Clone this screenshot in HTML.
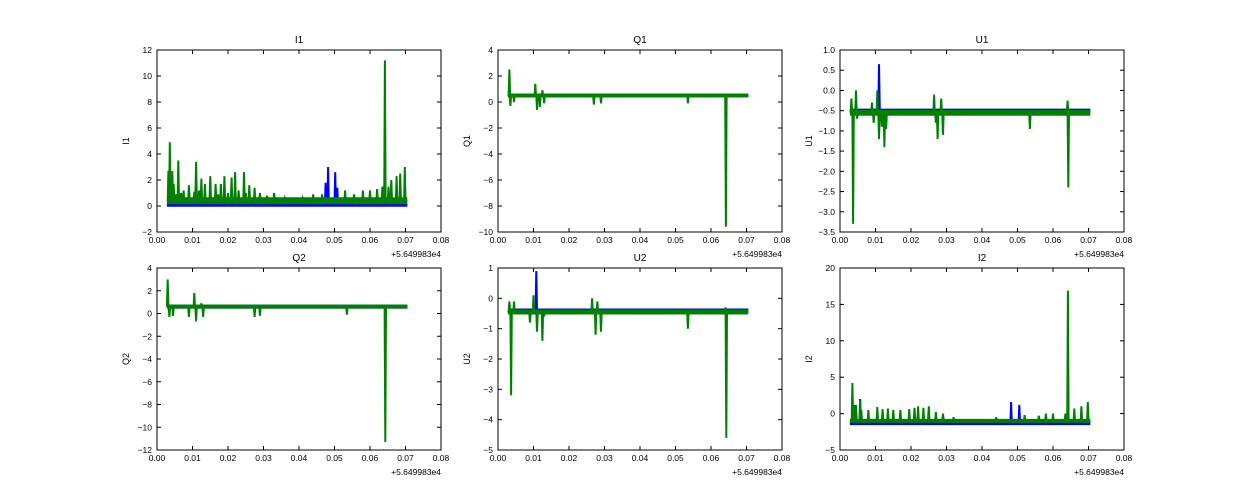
<!DOCTYPE html>
<html><head><meta charset="utf-8">
<style>
body{margin:0;background:#fff;}
svg{display:block;font-family:"Liberation Sans",sans-serif;}
</style></head>
<body>
<svg id="fig" width="1250" height="500" viewBox="0 0 1250 500" xmlns="http://www.w3.org/2000/svg"></svg>
<script>
// ---- data ----
const xTicks = [0.00,0.01,0.02,0.03,0.04,0.05,0.06,0.07,0.08];
const xStart = 0.0028, xEnd = 0.0705;
const offsetLabel = "+5.649983e4";

const titles = ["I1","Q1","U1","Q2","U2","I2"];
const yTicksI1 = [-2,0,2,4,6,8,10,12];
const yTicksQ1 = [-10,-8,-6,-4,-2,0,2,4];
const yTicksU1 = [-3.5,-3.0,-2.5,-2.0,-1.5,-1.0,-0.5,0.0,0.5,1.0];
const yTicksQ2 = [-12,-10,-8,-6,-4,-2,0,2,4];
const yTicksU2 = [-5,-4,-3,-2,-1,0,1];
const yTicksI2 = [-5,0,5,10,15,20];

const blueBase = [0.1, 0.5, -0.5, 0.6, -0.4, -1.3];
const greenBase = [0.4, 0.5, -0.55, 0.6, -0.45, -1.0];
const greenBandW = [7, 4, 6, 4, 5, 4];

// spikes: [x, value]
const greenI1 = [[0.0032,2.7],[0.0036,4.9],[0.0043,2.7],[0.0047,1.7],[0.0053,0.9],[0.006,3.5],[0.0068,1.0],[0.0075,1.2],[0.009,1.6],[0.0105,1.1],[0.011,3.4],[0.0118,1.2],[0.0125,2.1],[0.0135,1.7],[0.015,2.3],[0.0165,1.7],[0.0172,0.9],[0.018,1.7],[0.019,2.3],[0.020,1.0],[0.021,2.2],[0.022,2.6],[0.023,1.2],[0.0245,2.6],[0.025,1.0],[0.026,1.6],[0.0275,1.4],[0.029,1.0],[0.031,0.8],[0.033,1.0],[0.036,0.6],[0.041,0.6],[0.044,0.9],[0.0465,0.9],[0.053,1.2],[0.0555,0.9],[0.058,1.2],[0.060,1.2],[0.062,1.3],[0.0635,1.5],[0.0642,11.2],[0.0652,1.5],[0.066,2.0],[0.0675,2.3],[0.0685,2.5],[0.0698,3.0]];
const blueI1 = [[0.0475,1.8],[0.0482,3.0],[0.0502,2.6],[0.0508,1.4]];
const greenQ1 = [[0.0032,2.5],[0.0035,-0.3],[0.0045,0.0],[0.0105,1.4],[0.011,-0.6],[0.0118,-0.4],[0.0125,0.9],[0.013,-0.1],[0.027,-0.2],[0.029,-0.1],[0.0535,-0.1],[0.0642,-9.6]];
const blueQ1 = [];
const greenU1 = [[0.0032,-0.2],[0.0037,-3.3],[0.0045,0.0],[0.0048,-0.7],[0.009,-0.3],[0.0095,-0.8],[0.0105,0.0],[0.011,-1.2],[0.0118,-0.9],[0.0125,-1.4],[0.013,-0.95],[0.0265,-0.1],[0.027,-0.8],[0.0275,-1.2],[0.0285,-0.2],[0.029,-1.1],[0.0535,-0.95],[0.0641,-0.25],[0.0643,-2.4]];
const blueU1 = [[0.011,0.65]];
const greenQ2 = [[0.003,3.0],[0.0035,-0.3],[0.0045,-0.2],[0.009,-0.3],[0.0105,1.8],[0.011,-0.7],[0.0125,0.9],[0.013,-0.3],[0.0275,-0.3],[0.029,-0.2],[0.0535,-0.1],[0.0643,-11.3]];
const blueQ2 = [];
const greenU2 = [[0.0032,-0.1],[0.0037,-3.2],[0.0045,-0.1],[0.009,-0.8],[0.010,0.1],[0.011,-1.1],[0.0125,-1.4],[0.013,-0.6],[0.0265,0.0],[0.0275,-1.2],[0.028,-0.1],[0.029,-1.1],[0.0535,-1.0],[0.0641,-0.3],[0.0643,-4.6]];
const blueU2 = [[0.0108,0.9]];
const greenI2 = [[0.0035,4.2],[0.004,1.2],[0.0045,1.2],[0.0057,1.8],[0.006,0.5],[0.008,0.5],[0.0105,0.9],[0.012,0.6],[0.0135,0.7],[0.015,0.5],[0.017,0.5],[0.0195,0.6],[0.021,0.8],[0.022,1.0],[0.0235,0.8],[0.025,1.0],[0.027,0.2],[0.029,0.0],[0.032,-0.5],[0.044,-0.5],[0.052,-0.2],[0.056,-0.3],[0.058,0.0],[0.060,0.0],[0.0635,0.0],[0.0642,16.9],[0.066,0.7],[0.068,1.0],[0.0698,1.6]];
const blueI2 = [[0.0057,2.0],[0.0482,1.6],[0.0505,1.2]];

const yTickSets = [yTicksI1,yTicksQ1,yTicksU1,yTicksQ2,yTicksU2,yTicksI2];
const greenSets = [greenI1,greenQ1,greenU1,greenQ2,greenU2,greenI2];
const blueSets = [blueI1,blueQ1,blueU1,blueQ2,blueU2,blueI2];

// ---- drawing ----
const NS = "http://www.w3.org/2000/svg";
const fig = document.getElementById('fig');
const colsX = [157,498,840], rowsY = [50,268], W = 284, H = 182;
function mk(tag, attrs, parent){ const e=document.createElementNS(NS,tag); for(const k in attrs) e.setAttribute(k,attrs[k]); (parent||fig).appendChild(e); return e; }
function fmt(v, ticks){ const dec = ticks.some(t=>Math.abs(t-Math.round(t))>1e-9) ? 1 : 0; return (v<0?"\u2212":"")+Math.abs(v).toFixed(dec); }

for(let p=0;p<6;p++){
  const L = colsX[p%3], T = rowsY[Math.floor(p/3)];
  const yt = yTickSets[p], ymin = yt[0], ymax = yt[yt.length-1];
  const sx = v => L + (v - xTicks[0])/(xTicks[xTicks.length-1]-xTicks[0])*W;
  const sy = v => T + H - (v - ymin)/(ymax-ymin)*H;
  const g = mk('g',{});
  
  
  const clipId='c'+p;
  const cp = mk('clipPath',{id:clipId},g); mk('rect',{x:L,y:T,width:W,height:H},cp);
  const plot = mk('g',{'clip-path':'url(#'+clipId+')'},g);
  function series(base, spikes, color, w, bw, name){
    const pts=[[xStart,base]];
    spikes.slice().sort((a,b)=>a[0]-b[0]).forEach(s=>{ pts.push([s[0]-0.0002,base]); pts.push([s[0],s[1]]); pts.push([s[0]+0.0002,base]); });
    pts.push([xEnd,base]);
    const band = mk('line',{x1:sx(xStart),x2:sx(xEnd),y1:sy(base),y2:sy(base),stroke:color,'stroke-width':bw},plot);
    
    
    const pl = mk('polyline',{points:pts.map(q=>sx(q[0]).toFixed(1)+','+sy(q[1]).toFixed(1)).join(' '),fill:'none',stroke:color,'stroke-width':w,'stroke-linejoin':'miter'},plot);
    
    
  }
  series(blueBase[p], blueSets[p], '#0000ff', 2, 4, 'blue-series');
  series(greenBase[p], greenSets[p], '#008000', 2, greenBandW[p], 'green-series');
  const frame = mk('rect',{x:L,y:T,width:W,height:H,fill:'none',stroke:'#000','stroke-width':1},g);
  
  
  xTicks.forEach(v=>{
    const x=sx(v);
    mk('line',{x1:x,x2:x,y1:T+H,y2:T+H-4,stroke:'#000'},g);
    mk('line',{x1:x,x2:x,y1:T,y2:T+4,stroke:'#000'},g);
    const t=mk('text',{x:x,y:T+H+11,'font-size':8.5,'text-anchor':'middle'},g); t.textContent=v.toFixed(2);
    
    
  });
  yt.forEach(v=>{
    const y=sy(v);
    mk('line',{x1:L,x2:L+4,y1:y,y2:y,stroke:'#000'},g);
    mk('line',{x1:L+W,x2:L+W-4,y1:y,y2:y,stroke:'#000'},g);
    const t=mk('text',{x:L-5,y:y+3,'font-size':8.5,'text-anchor':'end'},g); t.textContent=fmt(v,yt);
    
    
  });
  const off=mk('text',{x:L+W,y:T+H+25,'font-size':8.5,'text-anchor':'end'},g); off.textContent=offsetLabel;
  
  
  const ti=mk('text',{x:L+W/2,y:T-7,'font-size':10,'text-anchor':'middle'},g); ti.textContent=titles[p];
  
  
  const yl=mk('text',{x:0,y:0,'font-size':9,'text-anchor':'middle',transform:'translate('+(L-28)+','+(T+H/2)+') rotate(-90)'},g); yl.textContent=titles[p];
  
  
}
</script>
</body></html>
